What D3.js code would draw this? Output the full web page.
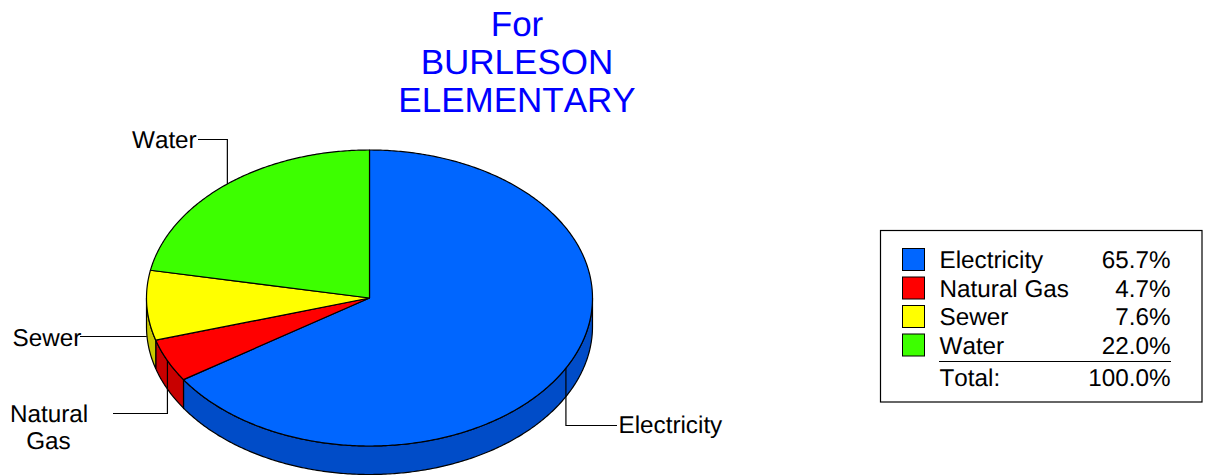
<!DOCTYPE html>
<html><head><meta charset="utf-8">
<script src="https://cdn.jsdelivr.net/npm/d3@7"></script>
<style>html,body{margin:0;padding:0;background:#fff}svg{display:block}text{font-family:"Liberation Sans",Arial,sans-serif;fill:#000;font-kerning:none;text-rendering:geometricPrecision}</style>
</head><body><svg id="c" width="1206" height="475"></svg>
<script>
const titleLines = ["For", "BURLESON", "ELEMENTARY"];
const categories = ["Electricity", "Natural Gas", "Sewer", "Water"];
const values = [65.7, 4.7, 7.6, 22.0];
const totalLabel = "Total:";
const totalValue = 100.0;
const topColors = ["#0066ff", "#ff0000", "#ffff00", "#3dff00"];
const sideColors = ["#004cc8", "#c80000", "#c8c800", "#30c800"];

const svg = d3.select("#c");
const cx = 369.5, cy = 298, rx = 223, ry = 148, depth = 28.5;
const fs = 24.25;
const pt = (a, r = 1, dy = 0) => [cx + rx * r * Math.sin(a), cy - ry * r * Math.cos(a) + dy];
const line = d3.line();
const arcs = d3.pie().sort(null)(values);
const sampled = (a0, a1) => {
  const n = Math.max(2, Math.ceil(Math.abs(a1 - a0) / 0.01));
  return d3.range(n + 1).map(i => a0 + (a1 - a0) * i / n);
};
const PI = Math.PI;

// title
svg.append("g").selectAll("text").data(titleLines).join("text")
  .attr("x", 517).attr("y", (d, i) => [36, 74, 112][i])
  .attr("text-anchor", "middle").attr("font-size", 35).style("fill", "#0000ff").text(d => d);

// side walls (front half only)
const walls = svg.append("g");
arcs.forEach((d, i) => {
  const a0 = Math.max(d.startAngle, PI / 2), a1 = Math.min(d.endAngle, 3 * PI / 2);
  if (a1 <= a0) return;
  const s = sampled(a0, a1);
  const pts = s.map(a => pt(a)).concat(s.slice().reverse().map(a => pt(a, 1, depth)));
  walls.append("path").attr("d", line(pts) + "Z")
    .attr("fill", sideColors[i]).attr("stroke", "#000").attr("stroke-width", 1.2);
});

// top faces
const tops = svg.append("g");
arcs.forEach((d, i) => {
  const s = sampled(d.startAngle, d.endAngle);
  const pts = [[cx, cy]].concat(s.map(a => pt(a)));
  tops.append("path").attr("d", line(pts) + "Z")
    .attr("fill", topColors[i]).attr("stroke", "#000").attr("stroke-width", 1.2).attr("stroke-linejoin", "round");
});

// leaders and callout labels
const mid = arcs.map(d => (d.startAngle + d.endAngle) / 2);
const leader = pts => svg.append("path").attr("d", line(pts)).attr("fill", "none").attr("stroke", "#000").attr("stroke-width", 1.2);
const label = (t, x, y, anchor = "start") => svg.append("text").attr("x", x).attr("y", y).attr("text-anchor", anchor).attr("font-size", fs).text(t);

const pE = pt(mid[0]), pG = pt(mid[1]), pS = pt(mid[2], 1, depth), pW = pt(mid[3]);
leader([pE, [pE[0], 425.5], [617, 425.5]]);
leader([pG, [pG[0], 413.5], [113, 413.5]]);
leader([[pS[0], 336.5], [80, 336.5]]);
leader([pW, [pW[0], 139.5], [198, 139.5]]);
label(categories[0], 618.5, 433);
label("Natural", 49, 422, "middle");
label("Gas", 48.5, 449, "middle");
label(categories[2], 12.5, 346);
label(categories[3], 132, 148);

// legend
const lg = svg.append("g");
lg.append("rect").attr("x", 880.5).attr("y", 230.5).attr("width", 321.5).attr("height", 171.5)
  .attr("fill", "#fff").attr("stroke", "#000").attr("stroke-width", 1.2);
const rowY = d3.scalePoint().domain(categories).range([268, 353.5]);
categories.forEach((c, i) => {
  const y = rowY(c);
  lg.append("rect").attr("x", 902.5).attr("y", y - 19.5).attr("width", 22).attr("height", 22)
    .attr("fill", topColors[i]).attr("stroke", "#000").attr("stroke-width", 1);
  lg.append("text").attr("x", 939.5).attr("y", y).attr("font-size", fs).text(c);
  lg.append("text").attr("x", 1170.5).attr("y", y).attr("text-anchor", "end").attr("font-size", fs).text(d3.format(".1f")(values[i]) + "%");
});
lg.append("line").attr("x1", 939).attr("x2", 1171).attr("y1", 361.5).attr("y2", 361.5).attr("stroke", "#000");
lg.append("text").attr("x", 939.5).attr("y", 386).attr("font-size", fs).text(totalLabel);
lg.append("text").attr("x", 1170.5).attr("y", 386).attr("text-anchor", "end").attr("font-size", fs).text(d3.format(".1f")(totalValue) + "%");
</script></body></html>
